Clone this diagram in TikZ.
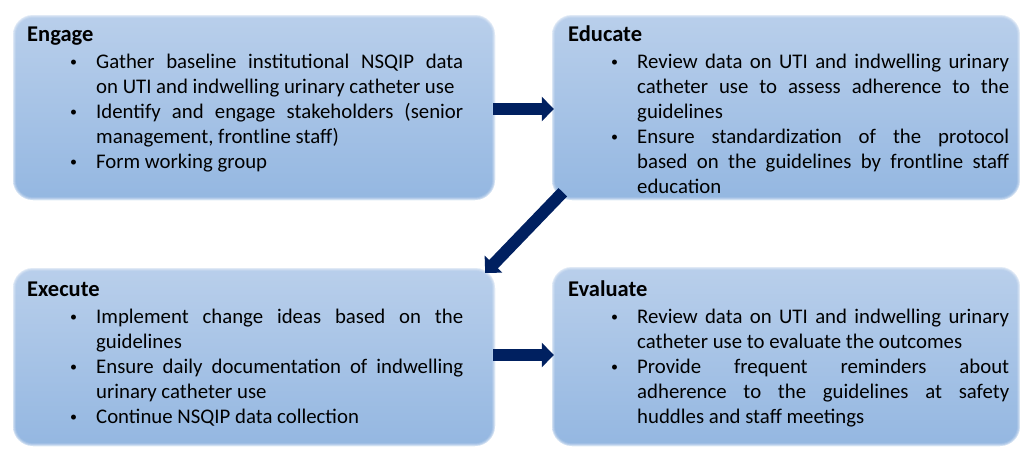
\documentclass[tikz,border=0pt]{standalone}
\usepackage{fontspec}
\setmainfont{Carlito}
\usetikzlibrary{arrows.meta,calc}
\definecolor{boxtop}{HTML}{B9CFEB}
\definecolor{boxbot}{HTML}{94B7E1}
\definecolor{navy}{HTML}{002060}
\newcommand{\jline}[1]{\makebox[\linewidth][s]{#1}\\}
\newcommand{\smallbul}{{\fontsize{14}{14}\selectfont\raisebox{1.6pt}{\textbullet}}}
\newcommand{\boxtitle}[1]{{\fontsize{22.5}{25}\selectfont\textbf{#1}}\par\vspace{2pt}}
\newenvironment{blist}{\begin{list}{\smallbul}{\setlength{\leftmargin}{69pt}\setlength{\labelwidth}{26pt}\setlength{\labelsep}{0pt}\setlength{\topsep}{0pt}\setlength{\partopsep}{0pt}\setlength{\itemsep}{0pt}\setlength{\parsep}{0pt}\renewcommand{\makelabel}[1]{##1\hfil}}}{\end{list}}
\tikzset{
  box/.style={rectangle, rounded corners=20pt, top color=boxtop, bottom color=boxbot, draw=none, inner sep=0pt},
  txt/.style={anchor=base west, inner sep=0pt, align=left, font=\fontsize{20.8}{25}\selectfont},
  flow/.style={navy, line width=12pt, -{Triangle[width=24pt,length=12pt]}},
}
\begin{document}
\begin{tikzpicture}[x=1pt,y=-1pt]
\useasboundingbox (0,0) rectangle (1021,448);
% boxes
\node[box, minimum width=482pt, minimum height=185pt] (engage) at (254,107.5) {};
\node[box, minimum width=468pt, minimum height=185pt] (educate) at (786,107.5) {};
\node[box, minimum width=482pt, minimum height=178pt] (execute) at (254,357) {};
\node[box, minimum width=468pt, minimum height=179pt] (evaluate) at (786,356.5) {};
% soft edges
\foreach \b in {engage,educate,execute,evaluate}{
  \foreach \d/\o in {0.5/0.55,1.5/0.3,2.5/0.12}{
    \draw[white, opacity=\o, line width=1pt, rounded corners={20pt-\d pt}]
      ($(\b.south west)+(\d,-\d)$) rectangle ($(\b.north east)+(-\d,\d)$);
  }
}
% texts
\node[txt] (engaget) at (27,41) {\begin{minipage}[t]{436pt}\fontsize{20.8}{25}\selectfont
\boxtitle{Engage}
\begin{blist}
\item \jline{Gather baseline institutional NSQIP data}on UTI and indwelling urinary catheter use
\item \jline{Identify and engage stakeholders (senior}management, frontline staff)
\item Form working group
\end{blist}\end{minipage}};
\node[txt] (educatet) at (568,41) {\begin{minipage}[t]{441pt}\fontsize{20.8}{25}\selectfont
\boxtitle{Educate}
\begin{blist}
\item \jline{Review data on UTI and indwelling urinary}\jline{catheter use to assess adherence to the}guidelines
\item \jline{Ensure standardization of the protocol}\jline{based on the guidelines by frontline staff}education
\end{blist}\end{minipage}};
\node[txt] (executet) at (27,296) {\begin{minipage}[t]{436pt}\fontsize{20.8}{25}\selectfont
\boxtitle{Execute}
\begin{blist}
\item \jline{Implement change ideas based on the}guidelines
\item \jline{Ensure daily documentation of indwelling}urinary catheter use
\item Continue NSQIP data collection
\end{blist}\end{minipage}};
\node[txt] (evaluatet) at (568,296) {\begin{minipage}[t]{441pt}\fontsize{20.8}{25}\selectfont
\boxtitle{Evaluate}
\begin{blist}
\item \jline{Review data on UTI and indwelling urinary}catheter use to evaluate the outcomes
\item \jline{Provide frequent reminders about}\jline{adherence to the guidelines at safety}huddles and staff meetings
\end{blist}\end{minipage}};
% arrows
\draw[flow, shorten <=-2pt] ($(engage.east)+(0,1.5)$) -- ($(educate.west)+(2,1.5)$);
\draw[flow] ($(educate.south west)+(11,-8)$) -- ($(execute.north east)+(-10,5)$);
\draw[flow, shorten <=-2pt] ($(execute.east)+(0,-2)$) -- ($(evaluate.west)+(2,-1.5)$);
\end{tikzpicture}
\end{document}
